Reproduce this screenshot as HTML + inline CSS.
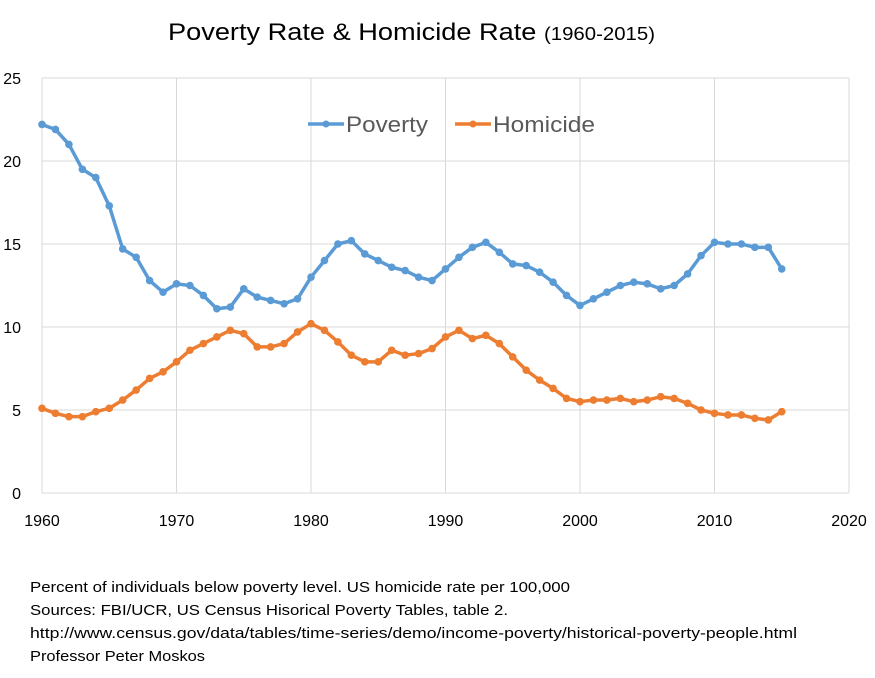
<!DOCTYPE html>
<html><head><meta charset="utf-8"><style>
body{margin:0;background:#fff;font-family:"Liberation Sans",sans-serif;}
svg text{font-family:"Liberation Sans",sans-serif;}
</style></head><body>
<svg id="c" width="875" height="673" xmlns="http://www.w3.org/2000/svg">
<text x="168" y="40" font-size="24" fill="#000" textLength="487" lengthAdjust="spacingAndGlyphs">Poverty Rate &amp; Homicide Rate <tspan font-size="18">(1960-2015)</tspan></text>
<g id="grid"></g><g id="axes"></g><g id="series"></g>
<g>
<line x1="308" y1="124" x2="344" y2="124" stroke="#5b9bd5" stroke-width="3.5"/><circle cx="326" cy="124" r="3.5" fill="#5b9bd5"/>
<text x="346" y="132" font-size="22" fill="#595959" textLength="82" lengthAdjust="spacingAndGlyphs">Poverty</text>
<line x1="455" y1="124" x2="491" y2="124" stroke="#ed7d31" stroke-width="3.5"/><circle cx="473" cy="124" r="3.5" fill="#ed7d31"/>
<text x="493" y="132" font-size="22" fill="#595959" textLength="102" lengthAdjust="spacingAndGlyphs">Homicide</text>
</g>
<g font-size="15" fill="#000">
<text x="30" y="592" textLength="540" lengthAdjust="spacingAndGlyphs">Percent of individuals below poverty level. US homicide rate per 100,000</text>
<text x="30" y="615" textLength="478" lengthAdjust="spacingAndGlyphs">Sources: FBI/UCR, US Census Hisorical Poverty Tables, table 2.</text>
<text x="30" y="638" textLength="767" lengthAdjust="spacingAndGlyphs">http://www.census.gov/data/tables/time-series/demo/income-poverty/historical-poverty-people.html</text>
<text x="30" y="661" textLength="175" lengthAdjust="spacingAndGlyphs">Professor Peter Moskos</text>
</g>
</svg>
<script>
const years=[];for(let y=1960;y<=2015;y++)years.push(y);
const poverty=[22.2,21.9,21.0,19.5,19.0,17.3,14.7,14.2,12.8,12.1,12.6,12.5,11.9,11.1,11.2,12.3,11.8,11.6,11.4,11.7,13.0,14.0,15.0,15.2,14.4,14.0,13.6,13.4,13.0,12.8,13.5,14.2,14.8,15.1,14.5,13.8,13.7,13.3,12.7,11.9,11.3,11.7,12.1,12.5,12.7,12.6,12.3,12.5,13.2,14.3,15.1,15.0,15.0,14.8,14.8,13.5];
const homicide=[5.1,4.8,4.6,4.6,4.9,5.1,5.6,6.2,6.9,7.3,7.9,8.6,9.0,9.4,9.8,9.6,8.8,8.8,9.0,9.7,10.2,9.8,9.1,8.3,7.9,7.9,8.6,8.3,8.4,8.7,9.4,9.8,9.3,9.5,9.0,8.2,7.4,6.8,6.3,5.7,5.5,5.6,5.6,5.7,5.5,5.6,5.8,5.7,5.4,5.0,4.8,4.7,4.7,4.5,4.4,4.9];
const xTicks=[1960,1970,1980,1990,2000,2010,2020];
const yTicks=[0,5,10,15,20,25];
const X=v=>42+(v-1960)*(849-42)/60, Y=v=>493-v*(493-78)/25;
const NS="http://www.w3.org/2000/svg";
function mk(p,t,a){const e=document.createElementNS(NS,t);for(const k in a)e.setAttribute(k,a[k]);p.appendChild(e);return e;}
const g=document.getElementById('grid'),ax=document.getElementById('axes'),s=document.getElementById('series');
yTicks.forEach(v=>{const l=mk(g,'line',{x1:42,x2:849,y1:Y(v),y2:Y(v),stroke:'#d9d9d9','stroke-width':1});


const t=mk(ax,'text',{x:21,y:Y(v)+6,'font-size':16,'text-anchor':'end',fill:'#000'});t.textContent=v;

});
xTicks.forEach(v=>{const l=mk(g,'line',{x1:X(v),x2:X(v),y1:78,y2:493,stroke:'#d9d9d9','stroke-width':1});


const t=mk(ax,'text',{x:X(v),y:526,'font-size':16,'text-anchor':'middle',fill:'#000'});t.textContent=v;

});
[[poverty,'#5b9bd5','poverty'],[homicide,'#ed7d31','homicide']].forEach(([d,c,n])=>{
const pl=mk(s,'polyline',{points:d.map((v,i)=>X(years[i])+','+Y(v)).join(' '),fill:'none',stroke:c,'stroke-width':3.5,'stroke-linejoin':'round'});


d.forEach((v,i)=>{const p=mk(s,'circle',{cx:X(years[i]),cy:Y(v),r:3.8,fill:c});

});});
</script>
</body></html>
